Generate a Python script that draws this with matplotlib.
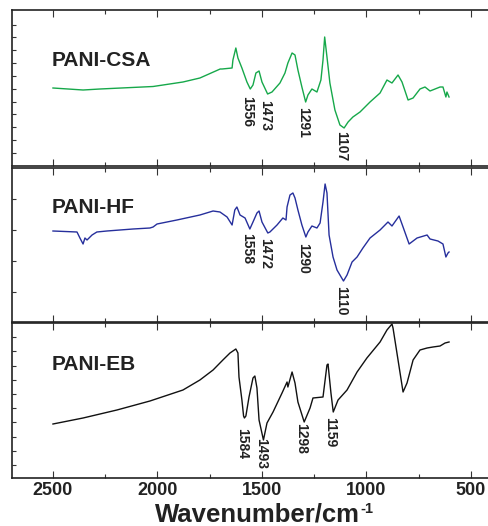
import matplotlib
matplotlib.use("Agg")
import matplotlib.pyplot as plt
from matplotlib.ticker import MultipleLocator, FixedLocator
import numpy as np

plt.rcParams['font.family'] = ['Liberation Sans', 'DejaVu Sans']
plt.rcParams['font.weight'] = 'bold'

# ---------------- data ----------------
csa_wn = [2500, 2356, 2275, 2021, 1878, 1797, 1700, 1691, 1643, 1639, 1625, 1615, 1596, 1572,
          1556, 1543, 1529, 1514, 1500, 1473, 1452, 1414, 1390, 1376, 1356, 1342, 1328, 1309,
          1291, 1280, 1261, 1237, 1218, 1208, 1200, 1189, 1175, 1151, 1127, 1107, 1088, 1065,
          1031, 983, 935, 902, 878, 849, 830, 801, 777, 744, 720, 696, 648, 634, 620, 615, 605]
csa_t = [78, 76, 77, 79.5, 84, 88, 97, 97, 98, 106, 118, 108, 98, 84,
         77, 81, 93, 95, 84, 72, 74, 83, 93, 103, 113, 111, 96, 79,
         64, 71, 77, 74, 86, 106, 129, 109, 83, 56, 41, 38, 44, 49,
         54, 64, 73, 86, 83, 91, 84, 66, 68, 77, 79, 75, 79, 79, 69, 74, 69]

hf_wn = [2500, 2385, 2371, 2356, 2347, 2337, 2313, 2290, 2242, 2117, 2036, 2021, 2002, 1907,
         1797, 1734, 1701, 1667, 1643, 1630, 1620, 1605, 1581, 1558, 1543, 1524, 1514, 1500,
         1472, 1462, 1428, 1400, 1385, 1380, 1366, 1352, 1342, 1328, 1309, 1290, 1280, 1261,
         1237, 1222, 1208, 1198, 1189, 1179, 1160, 1141, 1110, 1093, 1069, 1045, 1017, 983,
         935, 897, 878, 844, 825, 796, 758, 710, 696, 658, 634, 620, 610, 605]
hf_t = [91, 90, 84, 78, 84, 82, 87, 90, 91, 93, 94, 95, 98, 102,
        107, 111, 110, 105, 97, 112, 115, 107, 104, 93, 100, 109, 111, 100,
        89, 90, 97, 104, 102, 115, 127, 129, 124, 112, 97, 85, 90, 96,
        94, 99, 120, 138, 129, 87, 65, 52, 41, 47, 60, 65, 74, 84,
        92, 100, 96, 106, 95, 78, 84, 87, 83, 81, 78, 65, 69, 70]

eb_wn = [2500, 2356, 2194, 2036, 1878, 1797, 1734, 1687, 1653, 1625, 1615, 1610, 1596, 1588,
         1584, 1577, 1562, 1543, 1534, 1524, 1514, 1493, 1476, 1447, 1404, 1380, 1376, 1356,
         1342, 1328, 1304, 1298, 1270, 1256, 1208, 1189, 1184, 1170, 1159, 1136, 1093, 1045,
         998, 935, 902, 878, 873, 849, 825, 806, 777, 744, 710, 682, 648, 624, 605]
eb_t = [54, 60, 68, 77, 88, 98, 108, 118, 125, 129, 125, 101, 78, 62,
        60, 62, 81, 100, 102, 90, 58, 38, 55, 66, 85, 96, 91, 106,
        95, 76, 60, 56, 70, 80, 81, 113, 114, 85, 66, 78, 88, 106,
        120, 136, 148, 154, 150, 118, 86, 95, 118, 128, 130, 131, 132, 135, 136]

names = ["PANI-CSA", "PANI-HF", "PANI-EB"]
colors = ["#16a84a", "#262f9c", "#111111"]
peaks = [[1556, 1473, 1291, 1107],
         [1558, 1472, 1290, 1110],
         [1584, 1493, 1298, 1159]]
peak_label_top = [[70, 66, 59, 35],
                  [89, 84, 79, 36],
                  [50, 40, 55, 61]]
x_ticks = [2500, 2000, 1500, 1000, 500]

series = [(csa_wn, csa_t), (hf_wn, hf_t), (eb_wn, eb_t)]

# ---------------- figure ----------------
W, H = 489, 526
fig = plt.figure(figsize=(W / 100, H / 100), dpi=100)

panel_px = [(10, 166), (168, 322), (323, 478)]
left_px, right_px = 12, 490
ytick_sets = [np.arange(13, 150, 12.85), [30, 61, 92, 123], np.arange(13, 150, 14.2)]
name_px = [60, 207, 365]

axes = []
for i, (top, bot) in enumerate(panel_px):
    ax = fig.add_axes([left_px / W, (H - bot) / H, (right_px - left_px) / W, (bot - top) / H])
    axes.append(ax)
    wn, t = series[i]
    ax.plot(wn, t, color=colors[i], lw=1.0)
    ax.set_xlim(2696, 409)
    ax.set_ylim(0, bot - top)
    ax.xaxis.set_major_locator(FixedLocator(x_ticks))
    ax.xaxis.set_minor_locator(MultipleLocator(250))
    ax.yaxis.set_major_locator(FixedLocator(list(ytick_sets[i])))
    ax.tick_params(axis='x', which='major', direction='in', length=5, width=0.8,
                   top=True, bottom=True, colors='#333333')
    ax.tick_params(axis='x', which='minor', direction='in', length=3, width=0.8,
                   top=True, bottom=True, colors='#333333')
    ax.tick_params(axis='y', which='both', direction='in', length=3, width=0.8,
                   left=True, right=False, labelleft=False, colors='#333333')
    for s in ax.spines.values():
        s.set_linewidth(1.2)
        s.set_color('#222222')
    ax.text((52 - left_px) / (right_px - left_px), (bot - name_px[i]) / (bot - top), names[i],
            transform=ax.transAxes, fontsize=15, fontweight='bold', color='#222222',
            ha='left', va='center')
    for pk, top_t in zip(peaks[i], peak_label_top[i]):
        ax.annotate(str(pk), xy=(pk, top_t), xytext=(-2, 0), textcoords='offset points',
                    rotation=270, ha='center', va='top', fontsize=10, fontweight='bold',
                    color='#222222')
    if i < 2:
        ax.tick_params(axis='x', labelbottom=False)

bax = axes[2]
for lab in bax.get_xticklabels():
    lab.set_fontsize(13)
    lab.set_fontweight('bold')
    lab.set_color('#222222')
bax.tick_params(axis='x', which='major', pad=3)

# x-axis title with a separate superscript
xl = fig.text(257 / W, (H - 522) / H, 'Wavenumber/cm', fontsize=18.5, fontweight='bold',
              color='#222222', ha='center', va='baseline')
fig.canvas.draw()
bb = xl.get_window_extent()
fig.text((bb.x1 + 1) / W, (bb.y1 + 1) / H, '-1', fontsize=10.5, fontweight='bold',
         color='#222222', ha='left', va='top')

fig.savefig('out.png', dpi=100)
